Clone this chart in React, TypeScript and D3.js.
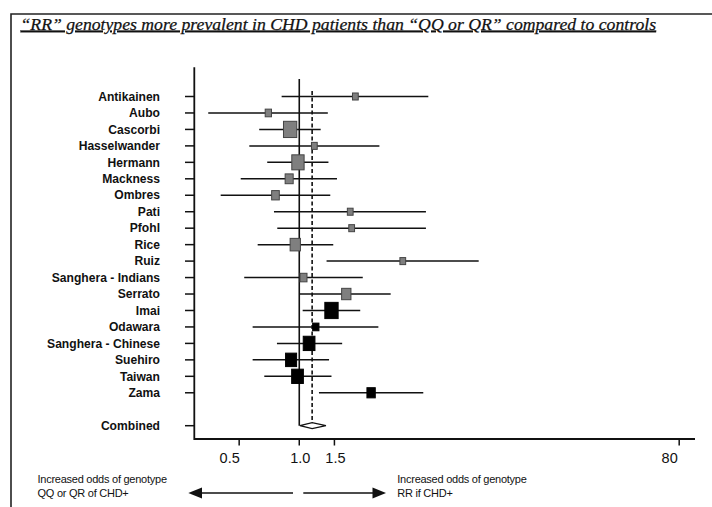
import React, { useEffect, useRef } from 'react'
import * as d3 from 'd3'

// study rows
const studies = ['Antikainen', 'Aubo', 'Cascorbi', 'Hasselwander', 'Hermann', 'Mackness', 'Ombres', 'Pati', 'Pfohl', 'Rice', 'Ruiz',
  'Sanghera - Indians', 'Serrato', 'Imai', 'Odawara', 'Sanghera - Chinese', 'Suehiro', 'Taiwan', 'Zama']
const oddsRatio = [1.91, 0.70, 0.90, 1.19, 0.985, 0.89, 0.76, 1.80, 1.83, 0.955, 3.30, 1.05, 1.72, 1.45, 1.21, 1.12, 0.91, 0.98, 2.29]
const ciLow = [0.816, 0.35, 0.63, 0.562, 0.691, 0.509, 0.404, 0.747, 0.776, 0.619, 1.37, 0.53, 1.0, 1.04, 0.584, 0.773, 0.584, 0.668, 1.255]
const ciHigh = [4.43, 1.39, 1.28, 2.52, 1.40, 1.545, 1.43, 4.31, 4.31, 1.48, 7.92, 2.08, 2.87, 2.02, 2.49, 1.64, 1.41, 1.45, 4.18]
const weight = [2.1, 2.5, 11.2, 2.1, 9.6, 4.1, 3.7, 2.1, 2.1, 6.7, 2.1, 3.1, 5.5, 11.2, 2.5, 8.7, 7.7, 8.7, 4.4]
const group = ['W', 'W', 'W', 'W', 'W', 'W', 'W', 'W', 'W', 'W', 'W', 'W', 'W', 'A', 'A', 'A', 'A', 'A', 'A']
const combined = { label: 'Combined', or: 1.16, lo: 1.008, hi: 1.36 }
const tickValues = [0.5, 1.0, 1.5, 80]
const tickLabels = ['0.5', '1.0', '1.5', '80']

const W = 712, H = 507
const sans = 'Liberation Sans, Arial, sans-serif'

export default function App() {
  const ref = useRef<SVGSVGElement>(null)

  useEffect(() => {
    const svg = d3.select(ref.current)
    svg.selectAll('*').remove()

    const x = d3.scaleLog().domain([0.298, 96]).range([194.3, 695])
    const y = d3.scaleLinear().domain([0, 20]).range([96.5, 425.7]) // Combined sits two rows below Zama
    const side = d3.scaleSqrt().domain([0, 11.2]).range([0, 13.3])
    const fill = d3.scaleOrdinal<string>().domain(['W', 'A']).range(['#7f7f7f', '#000'])

    // frame + title
    svg.append('path').attr('d', `M11,${H} V14 H${W}`).attr('fill', 'none').attr('stroke', '#222').attr('stroke-width', 1.6)
    svg.append('text').text('\u201CRR\u201D genotypes more prevalent in CHD patients than \u201CQQ or QR\u201D compared to controls')
      .attr('x', 20.5).attr('y', 29.5).attr('font-family', 'Liberation Serif, Times New Roman, serif')
      .attr('font-style', 'italic').attr('font-size', 17.7).attr('text-decoration', 'underline').attr('fill', '#111')
      .attr('stroke', '#111').attr('stroke-width', 0.25)

    const g = svg.append('g')

    // axes
    g.append('path').attr('d', `M194.3,67.3 V${439} H695`).attr('fill', 'none').attr('stroke', '#111').attr('stroke-width', 1.8)
    const rows = studies.map((s, i) => i).concat([20])
    g.selectAll('.rtick').data(rows).enter().append('line')
      .attr('x1', 185).attr('x2', 194.3).attr('y1', d => y(d)).attr('y2', d => y(d))
      .attr('stroke', '#111').attr('stroke-width', 1.5)
    g.selectAll('.rlab').data(studies.concat([combined.label])).enter().append('text')
      .text(d => d).attr('x', 160).attr('y', (d, i) => y(i < studies.length ? i : 20))
      .attr('dy', '0.35em').attr('text-anchor', 'end').attr('font-family', sans)
      .attr('font-weight', 'bold').attr('font-size', 12.1).attr('fill', '#111')

    tickValues.forEach((v, i) => {
      g.append('line').attr('x1', x(v)).attr('x2', x(v)).attr('y1', 439).attr('y2', 445.5)
        .attr('stroke', '#111').attr('stroke-width', 1.5)
      g.append('text').text(tickLabels[i]).attr('x', x(v) + (v === 0.5 || v === 80 ? -9.5 : 1))
        .attr('y', 462.5).attr('text-anchor', 'middle').attr('font-family', sans)
        .attr('font-size', 14.5).attr('fill', '#111')
    })

    // no-effect line and pooled estimate line
    g.append('line').attr('x1', x(1)).attr('x2', x(1)).attr('y1', 79).attr('y2', y(20))
      .attr('stroke', '#111').attr('stroke-width', 1.6)
    g.append('line').attr('x1', x(combined.or)).attr('x2', x(combined.or)).attr('y1', 91).attr('y2', y(20) - 3)
      .attr('stroke', '#111').attr('stroke-width', 1.6).attr('stroke-dasharray', '4,2.5')

    // confidence intervals
    g.selectAll('.ci').data(studies).enter().append('line')
      .attr('x1', (d, i) => x(ciLow[i])).attr('x2', (d, i) => x(ciHigh[i]))
      .attr('y1', (d, i) => y(i)).attr('y2', (d, i) => y(i))
      .attr('stroke', '#111').attr('stroke-width', 1.5)

    // weight boxes (scan is a bit stretched vertically)
    g.selectAll('.box').data(studies).enter().append('rect')
      .attr('x', (d, i) => x(oddsRatio[i]) - side(weight[i]) / 2)
      .attr('y', (d, i) => y(i) - side(weight[i]) * 1.22 / 2)
      .attr('width', (d, i) => side(weight[i]))
      .attr('height', (d, i) => side(weight[i]) * 1.22)
      .attr('fill', (d, i) => fill(group[i]))
      .attr('stroke', (d, i) => group[i] === 'W' ? '#444' : '#000').attr('stroke-width', 1)

    // combined diamond
    const cy = y(20)
    g.append('path')
      .attr('d', `M${x(combined.lo)},${cy} L${x(combined.or)},${cy - 3} L${x(combined.hi)},${cy} L${x(combined.or)},${cy + 3} Z`)
      .attr('fill', '#fff').attr('stroke', '#111').attr('stroke-width', 1.3)

    // direction notes
    const note = (t: string, tx: number, ty: number) => g.append('text').text(t).attr('x', tx).attr('y', ty)
      .attr('font-family', sans).attr('font-size', 11).attr('letter-spacing', -0.25).attr('fill', '#111')
    note('Increased odds of genotype', 37.5, 482.5)
    note(' QQ or QR of CHD+', 37.5, 496.5)
    note('Increased odds of genotype', 397.3, 482.5)
    note(' RR if CHD+', 397.3, 496.5)

    const ay = 493
    g.append('line').attr('x1', 200).attr('x2', 293).attr('y1', ay).attr('y2', ay).attr('stroke', '#111').attr('stroke-width', 1.6)
    g.append('path').attr('d', `M188.3,${ay} L202,${ay - 5.5} L202,${ay + 5.5} Z`).attr('fill', '#111')
    g.append('line').attr('x1', 303.3).attr('x2', 374).attr('y1', ay).attr('y2', ay).attr('stroke', '#111').attr('stroke-width', 1.6)
    g.append('path').attr('d', `M386,${ay} L372.5,${ay - 5.5} L372.5,${ay + 5.5} Z`).attr('fill', '#111')
  }, [])

  return (
    <svg ref={ref} width={W} height={H} style={{ position: 'absolute', left: 0, top: 0, background: '#fff' }} />
  )
}
